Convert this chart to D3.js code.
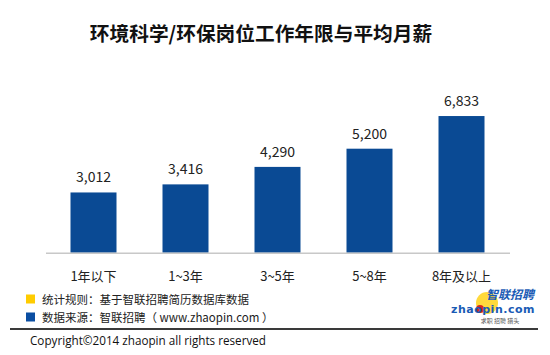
<!DOCTYPE html>
<html><head><meta charset="utf-8">
<script src="https://cdn.jsdelivr.net/npm/d3@7"></script>
<style>body{margin:0;background:#fff}svg{display:block}</style>
</head><body>
<script>
const categories = ["1年以下", "1~3年", "3~5年", "5~8年", "8年及以上"];
const values = [3012, 3416, 4290, 5200, 6833];
const title = "环境科学/环保岗位工作年限与平均月薪";
const legendItems = [
  {label: "统计规则：基于智联招聘简历数据库数据", color: "#ffcc00"},
  {label: "数据来源：智联招聘（ www.zhaopin.com ）", color: "#0b4ea2"}
];
const copyright = "Copyright©2014 zhaopin all rights reserved";

const W = 550, H = 355;
const svg = d3.select("body").append("svg").attr("width", W).attr("height", H);
const font = "'Noto Sans CJK SC', 'Noto Sans', sans-serif";

svg.append("text").attr("x", 261).attr("y", 32).attr("text-anchor", "middle")
  .attr("dominant-baseline", "central").attr("font-family", font)
  .attr("font-weight", "bold").attr("font-size", 19.7).attr("fill", "#111").text(title);

const x = d3.scaleBand().domain(categories).range([47.5, 507.5]).paddingInner(0.5).paddingOuter(0.25);
const y = d3.scaleLinear().domain([0, 8000]).range([252.7, 252.7 - 160]);

svg.append("g").selectAll("rect").data(values).join("rect")
  .attr("x", (d, i) => x(categories[i])).attr("width", x.bandwidth())
  .attr("y", d => y(d)).attr("height", d => y(0) - y(d)).attr("fill", "#0a4a94");

svg.append("line").attr("x1", 46).attr("x2", 510).attr("y1", y(0) + 0.5).attr("y2", y(0) + 0.5)
  .attr("stroke", "#c8c8c8").attr("stroke-width", 1.5);

svg.append("g").selectAll("text").data(values).join("text")
  .attr("x", (d, i) => x(categories[i]) + x.bandwidth() / 2).attr("y", d => y(d) - 16)
  .attr("text-anchor", "middle").attr("dominant-baseline", "central")
  .attr("font-family", font).attr("font-size", 14).attr("fill", "#222")
  .text(d => d3.format(",")(d));

svg.append("g").selectAll("text").data(categories).join("text")
  .attr("x", d => x(d) + x.bandwidth() / 2).attr("y", 275)
  .attr("text-anchor", "middle").attr("dominant-baseline", "central")
  .attr("font-family", font).attr("font-size", 13).attr("fill", "#222").text(d => d);

const lg = svg.append("g").selectAll("g").data(legendItems).join("g")
  .attr("transform", (d, i) => `translate(26,${299 + i * 18})`);
lg.append("rect").attr("x", 0).attr("y", -4.5).attr("width", 9).attr("height", 9).attr("fill", d => d.color);
lg.append("text").attr("x", 16).attr("y", 0).attr("dominant-baseline", "central")
  .attr("font-family", font).attr("font-size", 11.5).attr("fill", "#222").text(d => d.label);

svg.append("line").attr("x1", 10).attr("x2", 538).attr("y1", 329).attr("y2", 329)
  .attr("stroke", "#3a3a3a").attr("stroke-width", 2);

svg.append("text").attr("x", 30).attr("y", 339.5).attr("dominant-baseline", "central")
  .attr("font-family", "'Open Sans', sans-serif").attr("font-size", 11.7).attr("fill", "#111").text(copyright);

// logo
const logo = svg.append("g");
logo.append("circle").attr("cx", 487).attr("cy", 303).attr("r", 11).attr("fill", "#ffd21a").attr("opacity", 0.85);
logo.append("circle").attr("cx", 480).attr("cy", 309).attr("r", 4).attr("fill", "#d8261c");
logo.append("text").attr("x", 510).attr("y", 293).attr("text-anchor", "middle").attr("dominant-baseline", "central")
  .attr("font-family", font).attr("font-weight", "bold").attr("font-style", "italic")
  .attr("font-size", 12).attr("fill", "#1a5bb5").text("智联招聘");
logo.append("text").attr("x", 493).attr("y", 309.5).attr("text-anchor", "middle").attr("dominant-baseline", "central")
  .attr("font-family", "'DejaVu Sans', sans-serif").attr("font-weight", "bold")
  .attr("font-size", 11).attr("fill", "#1a5bb5").attr("letter-spacing", 0.5).text("zhaopin.com");
logo.append("text").attr("x", 500).attr("y", 320.5).attr("text-anchor", "middle").attr("dominant-baseline", "central")
  .attr("font-family", font).attr("font-size", 6).attr("fill", "#555").text("求职 招聘 猎头");
</script>
</body></html>
